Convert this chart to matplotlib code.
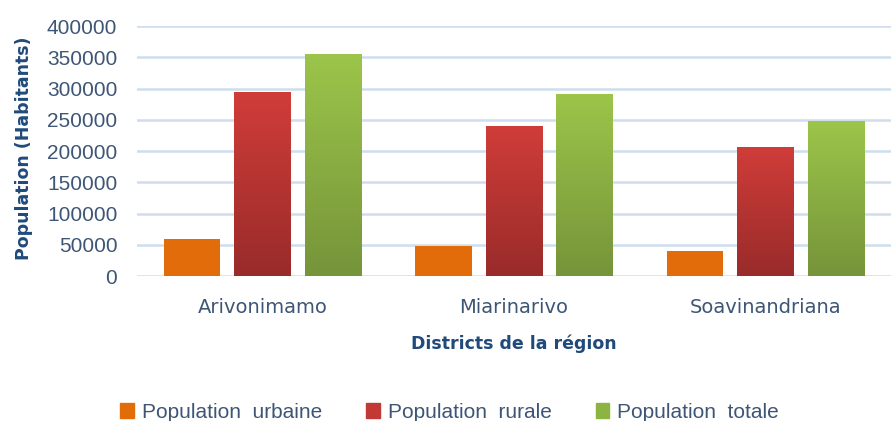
import numpy as np
import matplotlib
matplotlib.use("Agg")
import matplotlib.pyplot as plt
from matplotlib.colors import LinearSegmentedColormap

districts = ["Arivonimamo", "Miarinarivo", "Soavinandriana"]
pop_urbaine = [59000, 48500, 41000]
pop_rurale = [295000, 241000, 207000]
pop_totale = [356000, 292000, 247500]
series_names = ["Population  urbaine", "Population  rurale", "Population  totale"]
yticks = [0, 50000, 100000, 150000, 200000, 250000, 300000, 350000, 400000]

tick_color = "#3E5675"
title_color = "#1F4A7A"
grid_color = "#CFDDEE"

fig = plt.figure(figsize=(8.94, 4.21), dpi=100)
ax = fig.add_axes([0.153, 0.344, 0.844, 0.594])

x = np.arange(len(districts))
step = 0.28
width = 0.224
series = [pop_urbaine, pop_rurale, pop_totale]
gradients = [("#E36C0A", "#E36C0A"), ("#D03D39", "#992B2A"), ("#9CC54A", "#76943A")]

handles = []
for i, (vals, (ctop, cbot)) in enumerate(zip(series, gradients)):
    bars = ax.bar(x + (i - 1) * step, vals, width, color=ctop, zorder=3,
                  edgecolor="none", label=series_names[i])
    handles.append(bars)
    if ctop != cbot:
        cmap = LinearSegmentedColormap.from_list("g%d" % i, [cbot, ctop])
        grad = np.linspace(0, 1, 256).reshape(-1, 1)
        for b in bars:
            x0, y0 = b.get_x(), b.get_y()
            w, h = b.get_width(), b.get_height()
            im = ax.imshow(grad, cmap=cmap, aspect="auto", origin="lower",
                           extent=(x0, x0 + w, y0, y0 + h), zorder=4)
            im.set_clip_path(b)

ax.set_xlim(-0.5, 2.5)
ax.set_ylim(0, 400000)
ax.set_yticks(yticks)
ax.set_yticklabels([str(v) for v in yticks])
ax.set_xticks(x)
ax.set_xticklabels(districts)
ax.yaxis.grid(True, color=grid_color, linewidth=1.8, zorder=0)
ax.set_axisbelow(True)
for s in ax.spines.values():
    s.set_visible(False)
ax.tick_params(axis="both", length=0)
ax.tick_params(axis="y", pad=14, labelsize=15, labelcolor=tick_color)
ax.tick_params(axis="x", pad=16, labelsize=14, labelcolor=tick_color)
for lab in ax.get_yticklabels():
    lab.set_family("Liberation Sans")

ax.set_ylabel("Population (Habitants)", fontsize=12.5, fontweight="bold",
              color=title_color, family="DejaVu Sans", va="center")
ax.yaxis.set_label_coords((24 - 137) / 754.6, 0.51)
ax.set_xlabel("Districts de la région", fontsize=12.5, fontweight="bold",
              color=title_color, family="DejaVu Sans", labelpad=12)

leg = fig.legend(handles=handles, labels=series_names, loc="center",
                 bbox_to_anchor=(0.503, 0.02), ncol=3, frameon=False,
                 fontsize=15, handlelength=0.65, handleheight=0.75,
                 handletextpad=0.4, columnspacing=2.1)
for t in leg.get_texts():
    t.set_color(tick_color)
    t.set_family(["Liberation Sans", "DejaVu Sans"])
for h, c in zip(leg.legend_handles, ["#E36C0A", "#C23834", "#8DB443"]):
    h.set_color(c)

fig.savefig("out.png", dpi=100)
